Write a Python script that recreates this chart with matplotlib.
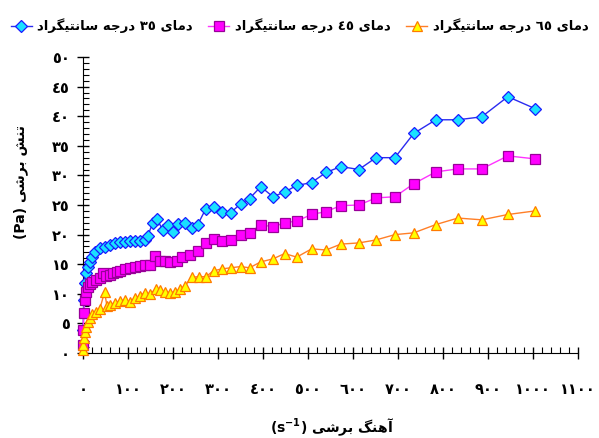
import matplotlib
matplotlib.use("Agg")
import matplotlib.pyplot as plt
from matplotlib.ticker import MultipleLocator

# shear rate (1/s) and shear stress (Pa) at 35, 45 and 65 degrees
x35 = [0.4, 1.6, 3.8, 6, 10, 15, 19, 26, 37, 48, 59, 70, 82, 93, 104, 115, 126,
       137, 144, 155, 164, 177, 188, 199, 210, 226, 242, 255, 273, 290, 308,
       328, 350, 370, 395, 422, 448, 475, 508, 540, 573, 613, 651, 693, 735,
       784, 833, 886, 944, 1004]
y35 = [3.9, 9.0, 11.8, 13.5, 14.6, 15.4, 16.2, 17.1, 17.8, 17.9, 18.3, 18.6,
       18.8, 18.8, 19.0, 19.0, 19.0, 19.1, 19.8, 22.0, 22.7, 20.8, 21.7, 20.5,
       21.8, 22.0, 21.2, 21.7, 24.4, 24.7, 23.9, 23.7, 25.2, 26.1, 28.1, 26.4,
       27.2, 28.3, 28.8, 30.5, 31.5, 31.0, 33.0, 33.0, 37.1, 39.4, 39.4, 39.9,
       43.3, 41.3]

x45 = [0, 0.4, 1.6, 3.8, 6, 10, 15, 21, 28, 37, 44, 50, 59, 66, 75, 82, 93, 104,
       115, 126, 137, 148, 159, 170, 182, 193, 208, 221, 237, 255, 273, 290,
       308, 328, 350, 370, 395, 422, 448, 475, 508, 540, 573, 613, 651, 693,
       735, 784, 833, 886, 944, 1004]
y45 = [1.4, 3.9, 6.8, 9.0, 10.3, 11.2, 11.7, 12.0, 12.4, 12.7, 13.5, 13.0, 13.2,
       13.5, 13.7, 13.9, 14.2, 14.4, 14.6, 14.7, 14.9, 14.9, 16.4, 15.6, 15.6,
       15.4, 15.6, 16.2, 16.6, 17.3, 18.6, 19.3, 19.0, 19.1, 20.0, 20.3, 21.7,
       21.3, 22.0, 22.3, 23.4, 23.9, 24.9, 25.0, 26.2, 26.4, 28.6, 30.6, 31.1,
       31.1, 33.3, 32.8]

x65 = [0, 0.3, 1.5, 3.8, 6, 10, 15, 21, 28, 37, 48, 53, 59, 70, 82, 93, 104, 115,
       126, 137, 148, 162, 170, 182, 193, 204, 215, 226, 242, 257, 273, 290,
       308, 328, 350, 370, 395, 422, 448, 475, 508, 540, 573, 613, 651, 693,
       735, 784, 833, 886, 944, 1004]
y65 = [0.5, 1.4, 2.5, 3.6, 4.4, 5.2, 5.9, 6.6, 6.9, 7.4, 10.3, 8.0, 8.1, 8.5,
       8.8, 9.0, 8.6, 9.3, 9.6, 10.2, 10.0, 10.8, 10.7, 10.3, 10.2, 10.3, 10.8,
       11.3, 12.8, 12.9, 12.9, 13.9, 14.2, 14.4, 14.6, 14.4, 15.4, 15.9, 16.8,
       16.2, 17.6, 17.4, 18.4, 18.6, 19.1, 20.0, 20.3, 21.7, 22.8, 22.5, 23.4,
       24.0]

x_ticks = list(range(0, 1101, 100))
y_ticks = list(range(0, 51, 5))

# Persian strings written in visual order with presentation forms,
# since matplotlib does no Arabic shaping or bidi.
w_dama = "\uFBFC\uFE8E\uFEE3\uFEA9"                      # دمای
w_daraje = "\uFEEA\uFE9F\uFEAD\uFEA9"                    # درجه
w_centigrad = "\uFEA9\uFE8D\uFEAE\uFB95\uFBFF\uFE98\uFEE7\uFE8E\uFEB3"  # سانتیگراد
w_tanesh = "\uFEB6\uFEE8\uFE97"                          # تنش
w_boreshi = "\uFBFD\uFEB7\uFEAE\uFE91"                   # برشی
w_ahang = "\uFB93\uFEE8\uFEEB\uFE81"                     # آهنگ

AR_DIGITS = "٠١٢٣٤٥٦٧٨٩"


def ar_num(v):
    return "".join(AR_DIGITS[int(c)] for c in str(abs(int(round(v)))))


def temp_label(t):
    return f"{w_centigrad} {w_daraje} {ar_num(t)} {w_dama}"


plt.rcParams["font.family"] = ["DejaVu Sans"]
plt.rcParams["font.weight"] = "bold"

fig = plt.figure(figsize=(5.99, 4.38), dpi=100)
ax = fig.add_axes([0.1386, 0.194, 0.8264, 0.6758])

ax.plot(x35, y35, color="#2b2bf0", lw=1.0, marker="D", ms=6.2,
        mfc="#19e1ff", mec="#1a1aff", mew=0.9, clip_on=False, zorder=3,
        label=temp_label(35))
ax.plot(x45, y45, color="#ff33ff", lw=1.0, marker="s", ms=6.8,
        mfc="#ff00ff", mec="#990099", mew=0.9, clip_on=False, zorder=3,
        label=temp_label(45))
ax.plot(x65, y65, color="#ff7f27", lw=1.0, marker="^", ms=7.8,
        mfc="#ffff00", mec="#ff7a00", mew=0.9, clip_on=False, zorder=3,
        label=temp_label(65))

ax.set_xlim(0, 1100)
ax.set_ylim(0, 50)
ax.spines["top"].set_visible(False)
ax.spines["right"].set_visible(False)

ax.set_xticks(x_ticks, [ar_num(v) for v in x_ticks])
ax.set_yticks(y_ticks, [ar_num(v) for v in y_ticks])
ax.xaxis.set_minor_locator(MultipleLocator(20))
ax.yaxis.set_minor_locator(MultipleLocator(1))

ax.tick_params(which="major", direction="inout", length=9, width=1)
ax.tick_params(which="minor", direction="in", length=4, width=0.8)
ax.tick_params(axis="x", which="major", pad=16, labelsize=10.5)
ax.tick_params(axis="y", which="major", pad=5, labelsize=10.5)

fig.text(0.555, 0.025, f"(s$^{{-1}}$) {w_boreshi} {w_ahang}", ha="center",
         va="center", fontsize=10, fontweight="bold")
fig.text(0.035, 0.585, f"(Pa) {w_boreshi} {w_tanesh}", rotation=90,
         ha="center", va="center", fontsize=10, fontweight="bold")

fig.legend(loc="upper center", bbox_to_anchor=(0.5, 0.985), ncol=3,
           frameon=False, fontsize=9.5, handlelength=1.6, columnspacing=1.2,
           handletextpad=0.4)

fig.savefig("out.png", dpi=100)
